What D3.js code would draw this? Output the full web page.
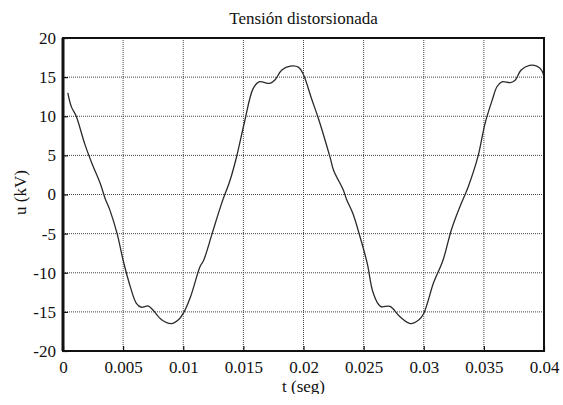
<!DOCTYPE html>
<html>
<head>
<meta charset="utf-8">
<script src="https://cdn.jsdelivr.net/npm/d3@7"></script>
<style>
  body { margin: 0; background: #fff; }
</style>
</head>
<body>
<div id="chart"></div>
<script>
// time in seconds and voltage in kV
var tSeg = [0.0004, 0.0007, 0.0011, 0.0018, 0.0024, 0.0031, 0.0035, 0.0039, 0.0045, 0.0050,
  0.0056, 0.0061, 0.0065, 0.0071, 0.0075, 0.0082, 0.0090, 0.0096, 0.0100, 0.0106,
  0.0114, 0.0117, 0.0124, 0.0132, 0.0139, 0.0144, 0.0151, 0.0158, 0.0163, 0.0172,
  0.0176, 0.0182, 0.0189, 0.0196, 0.0200, 0.0207, 0.0212, 0.0222, 0.0225, 0.0233,
  0.0236, 0.0241, 0.0247, 0.0253, 0.0258, 0.0264, 0.0272, 0.0280, 0.0289, 0.0296,
  0.0300, 0.0303, 0.0308, 0.0316, 0.0323, 0.0330, 0.0337, 0.0345, 0.0351, 0.0357,
  0.0361, 0.0365, 0.0372, 0.0376, 0.0381, 0.0388, 0.0394, 0.0398, 0.0400];
var uKV = [13.0, 11.2, 10.0, 6.5, 4.0, 1.4, -0.5, -2.0, -5.0, -8.4,
  -11.8, -13.9, -14.4, -14.25, -14.8, -16.0, -16.5, -16.0, -15.2, -13.1,
  -9.2, -8.4, -5.0, -1.1, 1.85, 4.6, 9.3, 13.5, 14.4, 14.2,
  14.6, 15.9, 16.4, 16.25, 15.3, 12.1, 9.9, 4.8, 3.1, 0.6,
  -0.7, -2.4, -5.4, -8.8, -12.6, -14.3, -14.3, -15.6, -16.5, -16.0,
  -15.2, -13.9, -11.35, -8.4, -4.5, -1.6, 1.0, 4.8, 9.1, 12.1,
  13.8, 14.4, 14.3, 14.6, 15.9, 16.5, 16.4, 15.9, 15.05];

var xTicks = [0, 0.005, 0.01, 0.015, 0.02, 0.025, 0.03, 0.035, 0.04];
var yTicks = [-20, -15, -10, -5, 0, 5, 10, 15, 20];
var xTickLabels = ["0", "0.005", "0.01", "0.015", "0.02", "0.025", "0.03", "0.035", "0.04"];
var yTickLabels = ["-20", "-15", "-10", "-5", "0", "5", "10", "15", "20"];

var title = "Tensión distorsionada";
var xLabel = "t (seg)";
var yLabel = "u (kV)";

var serif = "'Times New Roman', Times, Tinos, 'Nimbus Roman', 'Liberation Serif', 'DejaVu Serif', serif";

var W = 563, H = 405;
var margin = {top: 38, right: 19, bottom: 54, left: 63};
var width = W - margin.left - margin.right,
    height = H - margin.top - margin.bottom;

var svg = d3.select("#chart").append("svg")
  .attr("width", W)
  .attr("height", H)
  .attr("font-family", serif);

var g = svg.append("g")
  .attr("transform", "translate(" + margin.left + "," + margin.top + ")");

var x = d3.scaleLinear().domain([0, 0.04]).range([0, width]);
var y = d3.scaleLinear().domain([-20, 20]).range([height, 0]);

// dotted grid
g.append("g")
  .selectAll("line")
  .data(xTicks.slice(1, -1))
  .enter().append("line")
    .attr("x1", function(d) { return x(d); })
    .attr("x2", function(d) { return x(d); })
    .attr("y1", 0)
    .attr("y2", height)
    .attr("stroke", "#444")
    .attr("stroke-width", 1)
    .attr("stroke-dasharray", "1,1");

g.append("g")
  .selectAll("line")
  .data(yTicks.slice(1, -1))
  .enter().append("line")
    .attr("x1", 0)
    .attr("x2", width)
    .attr("y1", function(d) { return y(d); })
    .attr("y2", function(d) { return y(d); })
    .attr("stroke", "#444")
    .attr("stroke-width", 1)
    .attr("stroke-dasharray", "1,1");

// the curve
var pts = tSeg.map(function(t, i) { return [t, uKV[i]]; });
var line = d3.line()
  .x(function(d) { return x(d[0]); })
  .y(function(d) { return y(d[1]); })
  .curve(d3.curveCatmullRom);

g.append("path")
  .datum(pts)
  .attr("fill", "none")
  .attr("stroke", "#2a2a2a")
  .attr("stroke-width", 1.3)
  .attr("d", line);

// axes with inward ticks, MATLAB style
var xAxis = g.append("g")
  .attr("transform", "translate(0," + height + ")")
  .call(d3.axisBottom(x).tickValues(xTicks).tickSizeInner(-5).tickSizeOuter(0)
    .tickPadding(10).tickFormat(function(d, i) { return xTickLabels[i]; }));
var yAxis = g.append("g")
  .call(d3.axisLeft(y).tickValues(yTicks).tickSizeInner(-5).tickSizeOuter(0)
    .tickPadding(7).tickFormat(function(d, i) { return yTickLabels[i]; }));

[xAxis, yAxis].forEach(function(a) {
  a.attr("font-family", serif).attr("font-size", 17);
  a.select(".domain").remove();
  a.selectAll("line").attr("stroke", "#111").attr("stroke-width", 1.2);
  a.selectAll("text").attr("fill", "#111");
});

// frame
g.append("rect")
  .attr("width", width)
  .attr("height", height)
  .attr("fill", "none")
  .attr("stroke", "#111")
  .attr("stroke-width", 2);
g.append("line")
  .attr("x1", 0).attr("x2", 0)
  .attr("y1", 0).attr("y2", height)
  .attr("stroke", "#111")
  .attr("stroke-width", 3);

// labels
svg.append("text")
  .attr("x", margin.left + width / 2)
  .attr("y", 24)
  .attr("text-anchor", "middle")
  .attr("font-size", 17)
  .attr("fill", "#111")
  .text(title);

svg.append("text")
  .attr("x", margin.left + width / 2)
  .attr("y", 392)
  .attr("text-anchor", "middle")
  .attr("font-size", 17)
  .attr("fill", "#111")
  .text(xLabel);

svg.append("text")
  .attr("transform", "translate(26," + (margin.top + height / 2 - 2) + ") rotate(-90)")
  .attr("text-anchor", "middle")
  .attr("font-size", 17)
  .attr("fill", "#111")
  .text(yLabel);

// the source picture is cut just under the x label
svg.append("rect")
  .attr("x", 0).attr("y", 394)
  .attr("width", W).attr("height", H - 394)
  .attr("fill", "#fff");
</script>
</body>
</html>
